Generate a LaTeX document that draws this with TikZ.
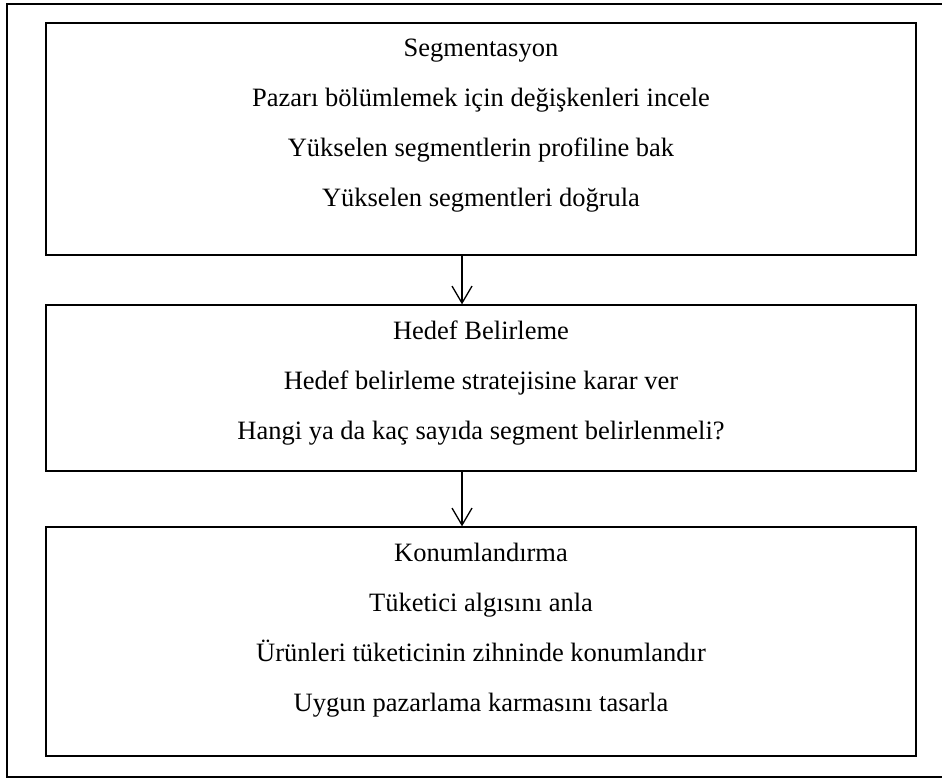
\documentclass[tikz,border=0pt]{standalone}
\usepackage{fontspec}
\setmainfont{Liberation Serif}
\usetikzlibrary{arrows.meta,positioning}
\tikzset{
    box/.style={rectangle, draw, line width=1.3pt, minimum width=870pt, inner sep=0pt},
    txt/.style={font=\fontsize{26.5}{30}\selectfont, inner sep=0pt, text height=19pt, text depth=6pt},
    arrow/.style={-{Straight Barb[length=17pt, width=20pt]}, line width=1.3pt}
}

\begin{document}
\begin{tikzpicture}[x=1pt, y=1pt, node distance=24.5pt]
    \path[use as bounding box] (0,0) rectangle (942,778);
    \clip (0,0) rectangle (942,778);
    % outer frame
    \draw[line width=1.6pt] (7,1) rectangle (946,774);

    % Segmentasyon
    \node[box, minimum height=232pt] (seg) at (481,639) {};
    \node[txt, anchor=base] (segbaslik) at ([yshift=-34pt]seg.north) {Segmentasyon};
    \node[txt, below=of segbaslik] (seg1) {Pazarı bölümlemek için değişkenleri incele};
    \node[txt, below=of seg1] (seg2) {Yükselen segmentlerin profiline bak};
    \node[txt, below=of seg2] (seg3) {Yükselen segmentleri doğrula};

    % Hedef Belirleme
    \node[box, minimum height=166pt] (hedef) at (481,390) {};
    \node[txt, anchor=base] (hedefbaslik) at ([yshift=-35pt]hedef.north) {Hedef Belirleme};
    \node[txt, below=of hedefbaslik] (hedef1) {Hedef belirleme stratejisine karar ver};
    \node[txt, below=of hedef1] (hedef2) {Hangi ya da kaç sayıda segment belirlenmeli?};

    % Konumlandirma
    \node[box, minimum height=229pt] (konum) at (481,136.5) {};
    \node[txt, anchor=base] (konumbaslik) at ([yshift=-35pt]konum.north) {Konumlandırma};
    \node[txt, below=of konumbaslik] (konum1) {Tüketici algısını anla};
    \node[txt, below=of konum1] (konum2) {Ürünleri tüketicinin zihninde konumlandır};
    \node[txt, below=of konum2] (konum3) {Uygun pazarlama karmasını tasarla};

    % Arrows
    \draw[arrow] ([xshift=-19pt]seg.south) -- ([xshift=-19pt]hedef.north);
    \draw[arrow] ([xshift=-19pt]hedef.south) -- ([xshift=-19pt]konum.north);
\end{tikzpicture}
\end{document}
